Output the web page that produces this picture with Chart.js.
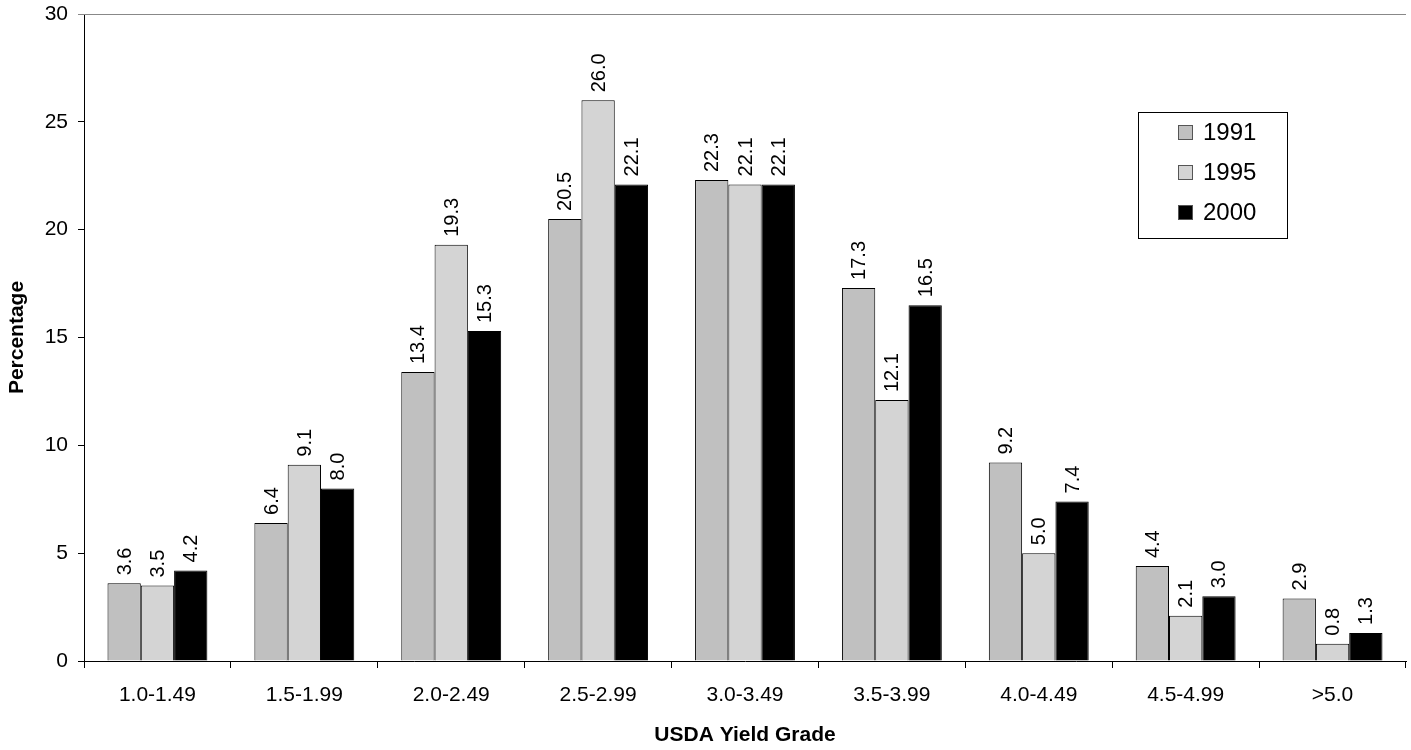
<!DOCTYPE html>
<html>
<head>
<meta charset="utf-8">
<script src="https://cdn.jsdelivr.net/npm/chart.js@4/dist/chart.umd.min.js"></script>
<style>
  html, body { margin: 0; padding: 0; background: #fff; }
  #wrap { width: 1411px; height: 750px; }
</style>
</head>
<body>
<div id="wrap"><canvas id="yieldChart" width="1411" height="750"></canvas></div>
<script>
// ====== DADOS ======
const categories = ['1.0-1.49', '1.5-1.99', '2.0-2.49', '2.5-2.99', '3.0-3.49', '3.5-3.99', '4.0-4.49', '4.5-4.99', '>5.0'];
const years = ['1991', '1995', '2000'];
const values1991 = [3.6, 6.4, 13.4, 20.5, 22.3, 17.3, 9.2, 4.4, 2.9];
const values1995 = [3.5, 9.1, 19.3, 26.0, 22.1, 12.1, 5.0, 2.1, 0.8];
const values2000 = [4.2, 8.0, 15.3, 22.1, 22.1, 16.5, 7.4, 3.0, 1.3];
const yTicks = [0, 5, 10, 15, 20, 25, 30];

const FONT = "'Liberation Sans', Arial, sans-serif";
const fillColors = ['#c0c0c0', '#d4d4d4', '#000000'];

// ====== PLUGIN: rótulos e legenda ======
const decorPlugin = {
  id: 'decor',
  afterDatasetsDraw(chart) {
    const ctx = chart.ctx;
    const area = chart.chartArea;

    // linha superior cinza
    ctx.save();
    ctx.strokeStyle = '#888888';
    ctx.lineWidth = 1;
    ctx.beginPath();
    ctx.moveTo(area.left - 6, Math.round(area.top) + 0.5);
    ctx.lineTo(area.right, Math.round(area.top) + 0.5);
    ctx.stroke();
    ctx.restore();

    // rótulos verticais
    chart.data.datasets.forEach((ds, i) => {
      const meta = chart.getDatasetMeta(i);
      meta.data.forEach((bar, j) => {
        ctx.save();
        ctx.translate(bar.x, bar.y - 8);
        ctx.rotate(-Math.PI / 2);
        ctx.font = '20px ' + FONT;
        ctx.fillStyle = '#000';
        ctx.textAlign = 'left';
        ctx.textBaseline = 'middle';
        ctx.fillText(ds.data[j].toFixed(1), 0, 1);
        ctx.restore();
      });
    });

    // legenda
    const box = { x: 1138, y: 112, w: 149, h: 126 };
    ctx.save();
    ctx.fillStyle = '#fff';
    ctx.fillRect(box.x, box.y, box.w, box.h);
    ctx.strokeStyle = '#000';
    ctx.lineWidth = 1;
    ctx.strokeRect(box.x + 0.5, box.y + 0.5, box.w, box.h);
    chart.data.datasets.forEach((ds, i) => {
      const cy = 132 + i * 40;
      ctx.fillStyle = ds.backgroundColor;
      ctx.fillRect(1178, cy - 7, 15, 15);
      ctx.strokeStyle = '#555';
      ctx.strokeRect(1178.5, cy - 6.5, 14, 14);
      ctx.fillStyle = '#000';
      ctx.font = '24px ' + FONT;
      ctx.textAlign = 'left';
      ctx.textBaseline = 'middle';
      ctx.fillText(ds.label, 1203, cy + 1);
    });
    ctx.restore();
  }
};

const datasets = [values1991, values1995, values2000].map((vals, i) => ({
  label: years[i],
  data: vals,
  backgroundColor: fillColors[i],
  borderColor: '#000000',
  borderWidth: 1,
  categoryPercentage: 0.68,
  barPercentage: 1.0
}));

new Chart(document.getElementById('yieldChart'), {
  type: 'bar',
  data: { labels: categories, datasets: datasets },
  options: {
    responsive: false,
    animation: false,
    devicePixelRatio: 1,
    layout: { padding: { left: 0, top: 14, right: 5, bottom: 0 } },
    plugins: {
      legend: { display: false },
      tooltip: { enabled: false }
    },
    scales: {
      x: {
        afterFit(scale) { scale.height = 89; scale.paddingLeft = 0; scale.paddingRight = 0; },
        grid: {
          offset: true,
          drawOnChartArea: false,
          drawTicks: true,
          tickLength: 7,
          tickColor: '#000',
          color: '#000'
        },
        border: { color: '#000', width: 1 },
        ticks: {
          color: '#000',
          padding: 15,
          maxRotation: 0,
          font: { family: FONT, size: 21 }
        },
        title: {
          display: true,
          text: 'USDA Yield Grade',
          color: '#000',
          font: { family: FONT, size: 21, weight: 'bold' },
          padding: { top: 0, bottom: 2 }
        }
      },
      y: {
        min: 0,
        max: 30,
        afterFit(scale) { scale.width = 84; scale.paddingTop = 0; scale.paddingBottom = 0; },
        afterBuildTicks(scale) { scale.ticks = yTicks.map(v => ({ value: v })); },
        grid: {
          drawOnChartArea: false,
          drawTicks: true,
          tickLength: 6,
          tickColor: '#000',
          color: '#000'
        },
        border: { color: '#000', width: 1 },
        ticks: {
          color: '#000',
          padding: 10,
          font: { family: FONT, size: 21 }
        },
        title: {
          display: true,
          text: 'Percentage',
          color: '#000',
          font: { family: FONT, size: 21, weight: 'bold' },
          padding: { top: 5, bottom: 0 }
        }
      }
    }
  },
  plugins: [decorPlugin]
});
</script>
</body>
</html>
